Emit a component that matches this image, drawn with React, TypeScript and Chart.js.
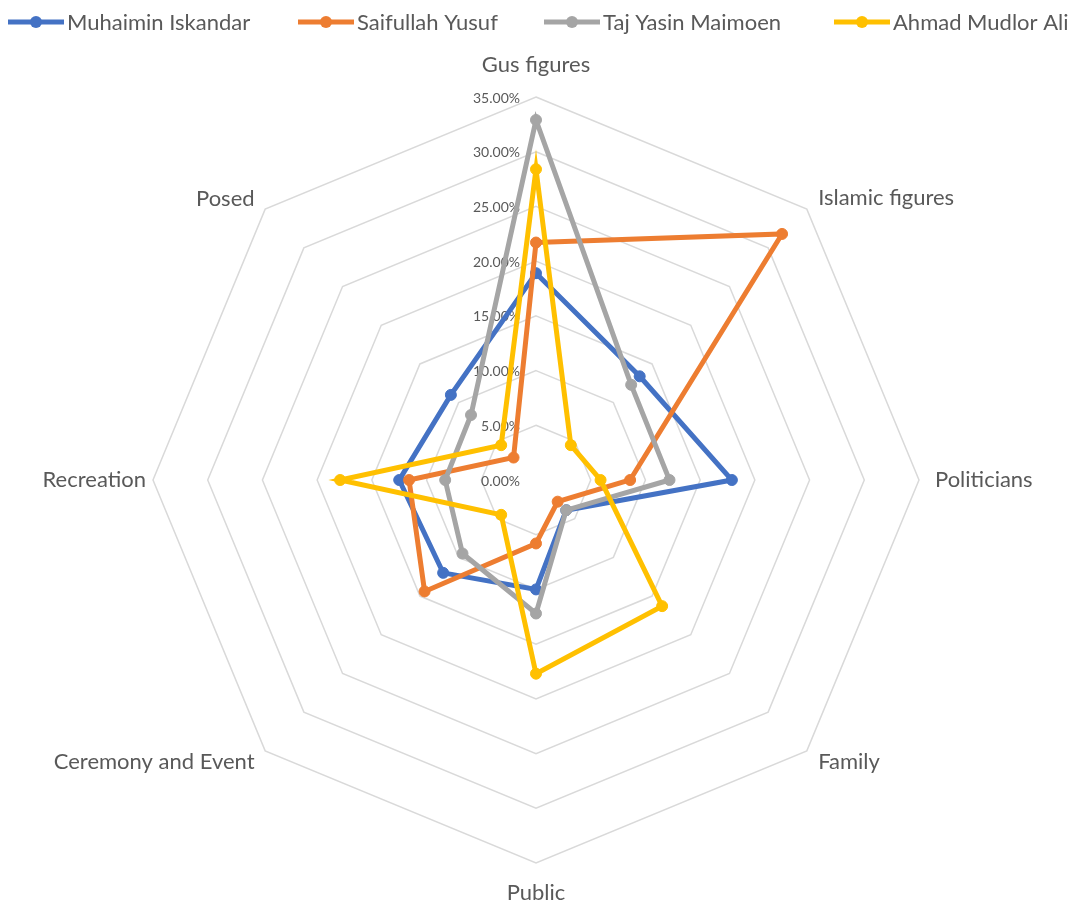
import React, { useEffect, useRef } from "react";
import { Chart, registerables } from "chart.js";

Chart.register(...registerables);

// ---- data ----
const categories = [
  "Gus figures",
  "Islamic figures",
  "Politicians",
  "Family",
  "Public",
  "Ceremony and Event",
  "Recreation",
  "Posed",
];
const seriesNames = ["Muhaimin Iskandar", "Saifullah Yusuf", "Taj Yasin Maimoen", "Ahmad Mudlor Ali"];
const muhaimin = [18.9, 13.4, 17.9, 3.9, 10.0, 12.0, 12.5, 11.0];
const saifullah = [21.7, 31.8, 8.6, 2.8, 5.8, 14.4, 11.6, 2.9];
const tajYasin = [32.9, 12.3, 12.2, 3.9, 12.2, 9.5, 8.3, 8.4];
const ahmadMudlor = [28.4, 4.5, 5.9, 16.3, 17.7, 4.5, 17.9, 4.5];
const tickValues = [0, 5, 10, 15, 20, 25, 30, 35];

// ---- style ----
const colors = ["#4472C4", "#ED7D31", "#A5A5A5", "#FFC000"];
const FONT = "Lato, 'Open Sans', sans-serif";
const TEXT = "#595959";
const LABEL_DIST = [415, 399, 399, 399, 413, 398, 390, 398];
const LEGEND_X = [8, 298, 544, 834];
const LEGEND_Y = 22;
const LEGEND_LINE = 56;

const overlay = {
  id: "overlay",
  beforeDatasetsDraw(chart: any) {
    const scale = chart.scales.r;
    const ctx = chart.ctx as CanvasRenderingContext2D;
    ctx.save();
    ctx.fillStyle = TEXT;
    ctx.textBaseline = "middle";
    ctx.font = `14px ${FONT}`;
    ctx.textAlign = "right";
    tickValues.forEach((v) => {
      const y = scale.yCenter - scale.getDistanceFromCenterForValue(v);
      ctx.fillText(v.toFixed(2) + "%", scale.xCenter - 16, y + 1);
    });
    ctx.font = `22px ${FONT}`;
    categories.forEach((c, i) => {
      const p = scale.getPointPosition(i, LABEL_DIST[i]);
      ctx.textAlign = i === 0 || i === 4 ? "center" : i < 4 ? "left" : "right";
      ctx.fillText(c, p.x, p.y);
    });
    ctx.restore();
  },
  afterDraw(chart: any) {
    const ctx = chart.ctx as CanvasRenderingContext2D;
    ctx.save();
    ctx.font = `22px ${FONT}`;
    ctx.textBaseline = "middle";
    ctx.textAlign = "left";
    seriesNames.forEach((name, i) => {
      const x0 = LEGEND_X[i];
      ctx.strokeStyle = colors[i];
      ctx.lineWidth = 5;
      ctx.lineCap = "butt";
      ctx.beginPath();
      ctx.moveTo(x0, LEGEND_Y);
      ctx.lineTo(x0 + LEGEND_LINE, LEGEND_Y);
      ctx.stroke();
      ctx.fillStyle = colors[i];
      ctx.beginPath();
      ctx.arc(x0 + LEGEND_LINE / 2, LEGEND_Y, 6, 0, Math.PI * 2);
      ctx.fill();
      ctx.fillStyle = TEXT;
      ctx.fillText(name, x0 + LEGEND_LINE + 3, LEGEND_Y + 1);
    });
    ctx.restore();
  },
};

export default function App() {
  const ref = useRef<HTMLCanvasElement | null>(null);
  useEffect(() => {
    if (!ref.current) return;
    const series = [muhaimin, saifullah, tajYasin, ahmadMudlor];
    const chart = new Chart(ref.current, {
      type: "radar",
      data: {
        labels: categories,
        datasets: series.map((d, i) => ({
          label: seriesNames[i],
          data: d,
          borderColor: colors[i],
          backgroundColor: colors[i],
          pointBackgroundColor: colors[i],
          pointBorderColor: colors[i],
          pointBorderWidth: 1,
          pointRadius: 5.5,
          borderWidth: 5,
          fill: false,
          tension: 0,
          order: series.length - i,
        })),
      },
      options: {
        animation: false,
        responsive: false,
        layout: { padding: { left: 153, right: 153, top: 97, bottom: 40 } },
        plugins: { legend: { display: false }, tooltip: { enabled: false } },
        scales: {
          r: {
            min: 0,
            max: 35,
            ticks: { stepSize: 5, display: false },
            grid: { color: "#D9D9D9", lineWidth: 1.5 },
            angleLines: { display: false },
            pointLabels: { display: false },
          },
        },
      },
      plugins: [overlay],
    });
    return () => chart.destroy();
  }, []);
  return (
    <div style={{ position: "absolute", left: 0, top: 0, width: 1072, height: 903, background: "#fff" }}>
      <canvas ref={ref} width={1072} height={903} />
    </div>
  );
}
